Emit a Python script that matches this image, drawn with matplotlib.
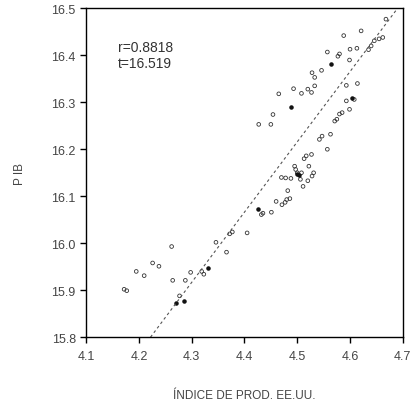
import matplotlib
matplotlib.use('Agg')
import matplotlib.pyplot as plt
import numpy as np

plt.rcParams['font.family'] = ['Liberation Sans', 'DejaVu Sans']

# open markers (x = indice de prod., y = PIB)
x_open = [4.172, 4.177, 4.195, 4.210, 4.226, 4.238, 4.262, 4.264, 4.277, 4.288, 4.298,
          4.319, 4.323, 4.346, 4.366, 4.372, 4.377, 4.405, 4.432, 4.435, 4.451,
          4.460, 4.471, 4.477, 4.480, 4.486, 4.482, 4.470, 4.478, 4.488, 4.495,
          4.497, 4.500, 4.506, 4.508, 4.511, 4.513, 4.517, 4.527, 4.522, 4.531,
          4.528, 4.520, 4.542, 4.547, 4.563, 4.557, 4.571, 4.575, 4.580, 4.585,
          4.593, 4.599, 4.608, 4.593, 4.614,
          4.427, 4.450, 4.454, 4.465, 4.493, 4.508, 4.520, 4.527, 4.533, 4.528,
          4.533, 4.546, 4.557, 4.577, 4.580, 4.588, 4.600, 4.599, 4.613, 4.621,
          4.635, 4.640, 4.646, 4.655, 4.662, 4.668]
y_open = [15.902, 15.899, 15.940, 15.931, 15.958, 15.951, 15.993, 15.921, 15.888, 15.921, 15.938,
          15.940, 15.934, 16.002, 15.981, 16.020, 16.024, 16.022, 16.061, 16.064, 16.066,
          16.089, 16.082, 16.087, 16.093, 16.095, 16.112, 16.140, 16.139, 16.138, 16.164,
          16.157, 16.150, 16.136, 16.150, 16.121, 16.180, 16.186, 16.189, 16.164, 16.150,
          16.143, 16.133, 16.221, 16.228, 16.232, 16.200, 16.260, 16.264, 16.275, 16.278,
          16.303, 16.285, 16.306, 16.336, 16.340,
          16.253, 16.253, 16.274, 16.318, 16.329, 16.319, 16.328, 16.321, 16.335, 16.363,
          16.353, 16.368, 16.407, 16.398, 16.403, 16.442, 16.413, 16.390, 16.415, 16.452,
          16.412, 16.420, 16.431, 16.435, 16.438, 16.477]

# filled markers
x_fill = [4.270, 4.285, 4.331, 4.426, 4.503, 4.500, 4.603, 4.488, 4.563]
y_fill = [15.872, 15.878, 15.947, 16.072, 16.146, 16.148, 16.309, 16.290, 16.381]

# regression line end points
line_x = [4.222, 4.690]
line_y = [15.800, 16.500]

fig = plt.figure(figsize=(4.14, 4.06), dpi=100)
ax = fig.add_axes([0.208, 0.167, 0.765, 0.810])

ax.plot(line_x, line_y, color='#555555', lw=0.8, ls=(0, (2.5, 2.5)))
ax.scatter(x_open, y_open, s=7, facecolors='none', edgecolors='#333333', linewidths=0.6)
ax.scatter(x_fill, y_fill, s=5, color='#111111')

ax.set_xlim(4.1, 4.7)
ax.set_ylim(15.8, 16.5)
ax.set_xticks([4.1, 4.2, 4.3, 4.4, 4.5, 4.6, 4.7])
ax.set_yticks([15.8, 15.9, 16.0, 16.1, 16.2, 16.3, 16.4, 16.5])
ax.tick_params(direction='out', length=4, width=1, labelsize=9, labelcolor='#444444')
ax.tick_params(axis='x', pad=5)
for s in ax.spines.values():
    s.set_linewidth(1.0)

ax.text(0.10, 0.905, 'r=0.8818\nt=16.519', transform=ax.transAxes, fontsize=10,
        va='top', ha='left', linespacing=1.2, color='#333333')

ax.set_xlabel('ÍNDICE DE PROD. EE.UU.', fontsize=8.5, color='#444444', labelpad=20)
ax.set_ylabel('P IB', fontsize=8.5, color='#444444', labelpad=18)

fig.savefig('out.png', dpi=100)
